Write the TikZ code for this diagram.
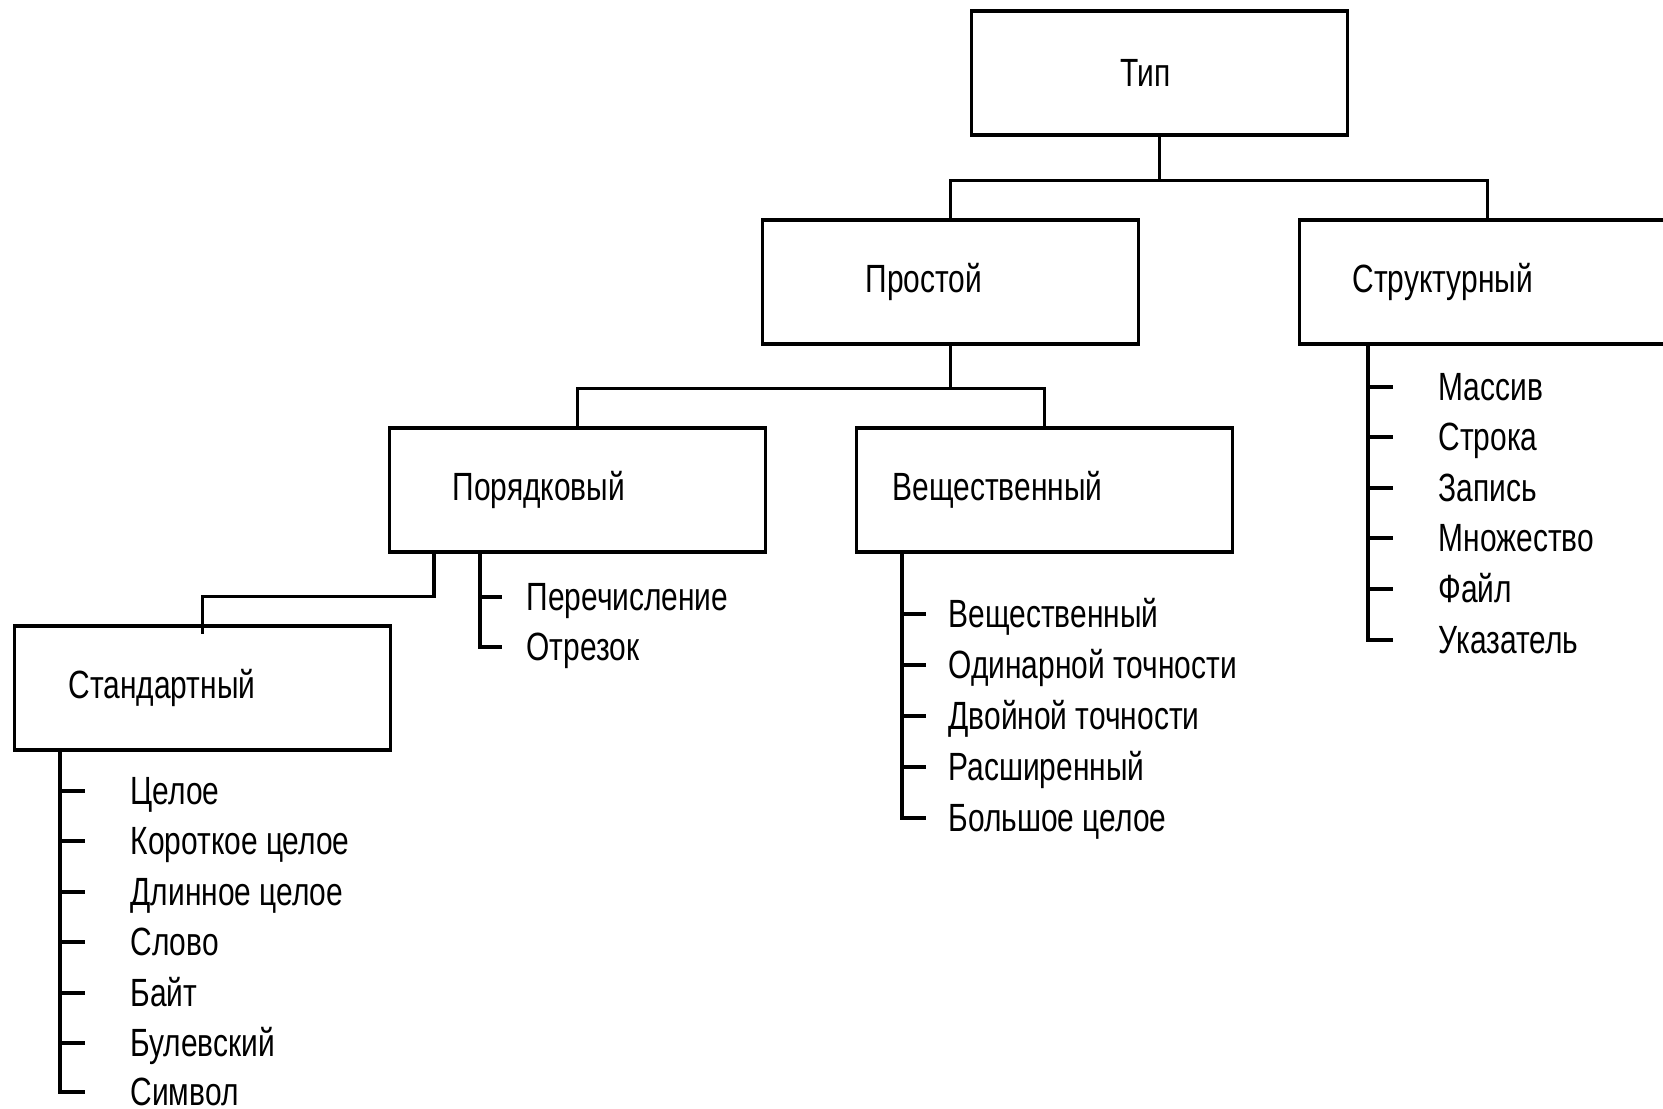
\documentclass[tikz,border=0pt]{standalone}
\usepackage{fontspec}
\setmainfont[FakeStretch=0.76]{Liberation Sans}
\usetikzlibrary{calc,positioning}

\begin{document}
\begin{tikzpicture}[x=0.01cm,y=-0.01cm,line width=0.9pt]
\tikzstyle{box}=[draw, rectangle, anchor=west, align=left, minimum height=1.24cm, font=\fontsize{11.2pt}{13pt}\selectfont]
\tikzstyle{item}=[anchor=west, inner sep=0pt, text height=1.4ex, text depth=0pt, font=\fontsize{11.2pt}{13pt}\selectfont]
\useasboundingbox (0,0) rectangle (1663,1109);

\node[box, inner xsep=1.49cm, text width=0.78cm] (tip) at (970,73) {Тип};
\node[box, inner xsep=1.03cm, text width=1.70cm] (simple) at (761,282) {Простой};
\node[box, inner xsep=0.53cm, text width=2.70cm] (struct) at (1298,282) {Структурный};
\node[box, inner xsep=0.63cm, text width=2.50cm] (ord) at (388,490) {Порядковый};
\node[box, inner xsep=0.36cm, text width=3.04cm] (real) at (855,490) {Вещественный};
\node[box, inner xsep=0.54cm, text width=2.68cm] (std) at (13,688) {Стандартный};

% tree
\draw (tip.south) -- ++(0,44) coordinate (j1);
\draw (simple.north) |- (j1) -| (struct.north);
\draw (simple.south) -- ++(0,43) coordinate (j2);
\draw (ord.north) |- (j2) -| (real.north);
\draw ([xshift=0.46cm]ord.south west) -- ++(0,43) -| ([yshift=-0.1cm]std.north);

% ordinal
\coordinate (o0) at ([xshift=0.92cm]ord.south west);
\node[item] (e1) at (525,597) {Перечисление};
\node[item] (e2) at (525,647) {Отрезок};
\foreach \n in {e1,e2} \draw (o0) |- ([xshift=-0.23cm]\n.west);

% standard
\coordinate (s0) at ([xshift=0.47cm]std.south west);
\node[item] (s1) at (129,791) {Целое};
\node[item] (s2) at (129,841) {Короткое целое};
\node[item] (s3) at (129,892) {Длинное целое};
\node[item] (s4) at (129,942) {Слово};
\node[item] (s5) at (129,993) {Байт};
\node[item] (s6) at (129,1043) {Булевский};
\node[item] (s7) at (129,1092) {Символ};
\foreach \n in {s1,s2,s3,s4,s5,s6,s7} \draw (s0) |- ([xshift=-0.44cm]\n.west);

% real
\coordinate (r0) at ([xshift=0.47cm]real.south west);
\node[item] (r1) at (947,614) {Вещественный};
\node[item] (r2) at (947,665) {Одинарной точности};
\node[item] (r3) at (947,716) {Двойной точности};
\node[item] (r4) at (947,767) {Расширенный};
\node[item] (r5) at (947,818) {Большое целое};
\foreach \n in {r1,r2,r3,r4,r5} \draw (r0) |- ([xshift=-0.21cm]\n.west);

% structured
\coordinate (c0) at ([xshift=0.70cm]struct.south west);
\node[item] (c1) at (1437,387) {Массив};
\node[item] (c2) at (1437,437) {Строка};
\node[item] (c3) at (1437,488) {Запись};
\node[item] (c4) at (1437,538) {Множество};
\node[item] (c5) at (1437,589) {Файл};
\node[item] (c6) at (1437,640) {Указатель};
\foreach \n in {c1,c2,c3,c4,c5,c6} \draw (c0) |- ([xshift=-0.44cm]\n.west);
\end{tikzpicture}
\end{document}
